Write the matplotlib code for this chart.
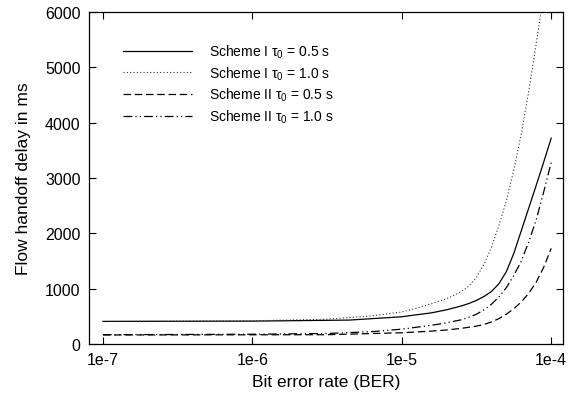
import numpy as np
import matplotlib
matplotlib.use("Agg")
import matplotlib.pyplot as plt

plt.rcParams['font.family'] = ['Liberation Sans', 'DejaVu Sans']
plt.rcParams['mathtext.fontset'] = 'custom'
plt.rcParams['mathtext.rm'] = 'Liberation Sans'
plt.rcParams['mathtext.it'] = 'Liberation Sans'

# values: log10(BER) and delay in ms
lx_s1a = [-7, -6, -5.35, -5.0, -4.9, -4.8, -4.7, -4.6, -4.55, -4.5, -4.45, -4.4,
          -4.35, -4.3, -4.25, -4.2, -4.15, -4.1, -4.05, -4.0]
y_s1a = [410, 415, 434, 494, 530, 565, 620, 690, 735, 790, 860, 950, 1090,
         1310, 1640, 2050, 2460, 2870, 3290, 3720]

lx_s1b = [-7, -6, -5.5, -5.2, -5.0, -4.9, -4.8, -4.7, -4.65, -4.6, -4.55, -4.5,
          -4.45, -4.4, -4.35, -4.3, -4.25, -4.2, -4.15, -4.1, -4.05, -4.0]
y_s1b = [410, 420, 450, 510, 580, 650, 730, 820, 880, 950, 1050, 1210, 1440,
         1750, 2140, 2590, 3150, 3800, 4570, 5430, 6350, 7300]

lx_s2a = [-7, -6, -5.5, -5.0, -4.8, -4.7, -4.6, -4.5, -4.45, -4.4, -4.35, -4.3,
          -4.25, -4.2, -4.15, -4.1, -4.05, -4.0]
y_s2a = [165, 168, 170, 205, 235, 255, 285, 325, 355, 400, 460, 540, 640, 760,
         920, 1120, 1390, 1730]

lx_s2b = [-7, -6, -5.5, -5.2, -5.0, -4.8, -4.7, -4.6, -4.55, -4.5, -4.45, -4.4,
          -4.35, -4.3, -4.25, -4.2, -4.15, -4.1, -4.05, -4.0]
y_s2b = [170, 178, 192, 225, 270, 340, 385, 440, 485, 540, 620, 720, 850, 1020,
         1240, 1500, 1850, 2250, 2750, 3280]

labels = [r"Scheme I $\tau_0$ = 0.5 s", r"Scheme I $\tau_0$ = 1.0 s",
          r"Scheme II $\tau_0$ = 0.5 s", r"Scheme II $\tau_0$ = 1.0 s"]
xticks = [1e-7, 1e-6, 1e-5, 1e-4]
xticklabels = ["1e-7", "1e-6", "1e-5", "1e-4"]
yticks = [0, 1000, 2000, 3000, 4000, 5000, 6000]

fig = plt.figure(figsize=(5.77, 4.06), dpi=100)
ax = fig.add_axes([0.154, 0.150, 0.822, 0.818])

ax.plot(10.0 ** np.array(lx_s1a), y_s1a, color='black', lw=0.9, ls='-',
        label=labels[0])
ax.plot(10.0 ** np.array(lx_s1b), y_s1b, color='0.2', lw=0.8, ls=(0, (1, 2)),
        label=labels[1])
ax.plot(10.0 ** np.array(lx_s2a), y_s2a, color='black', lw=0.9, ls=(0, (6, 3)),
        label=labels[2])
ax.plot(10.0 ** np.array(lx_s2b), y_s2b, color='black', lw=0.9,
        ls=(0, (7, 2.5, 1, 2.5, 1, 2.5)), label=labels[3])

ax.set_xscale('log')
ax.set_xlim(10 ** -7.094, 10 ** -3.92)
ax.set_ylim(0, 6000)
ax.set_xticks(xticks)
ax.set_xticklabels(xticklabels)
ax.minorticks_off()
ax.set_yticks(yticks)
ax.tick_params(direction='in', top=True, right=True, labelsize=11.5,
               length=5, width=0.8, pad=6)
for s in ax.spines.values():
    s.set_linewidth(0.9)

ax.set_xlabel("Bit error rate (BER)", fontsize=12.5, labelpad=5)
ax.set_ylabel("Flow handoff delay in ms", fontsize=12.5, labelpad=10)

leg = ax.legend(loc='upper left', bbox_to_anchor=(0.045, 0.945), frameon=False,
                fontsize=10, handlelength=5.0, handletextpad=1.2,
                labelspacing=0.3)

fig.savefig("out.png", dpi=100)
